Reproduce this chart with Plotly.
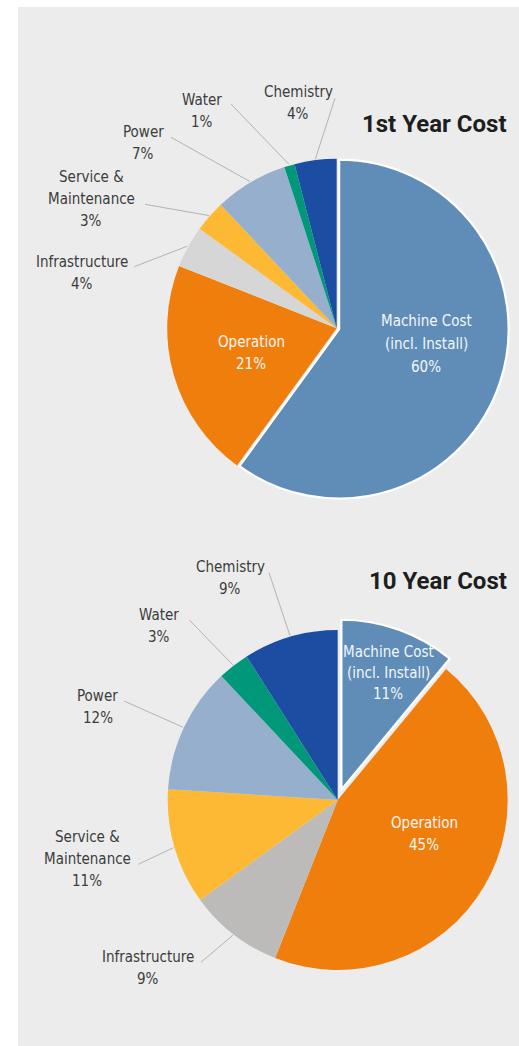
import math
import plotly.graph_objects as go

W, H = 519, 1046

# ---------------- data ----------------
categories = ["Machine Cost<br>(incl. Install)", "Operation", "Infrastructure",
              "Service &<br>Maintenance", "Power", "Water", "Chemistry"]
first_year = [60, 21, 4, 3, 7, 1, 4]
ten_year = [11, 45, 9, 11, 12, 3, 9]
titles = ["1st Year Cost", "10 Year Cost"]

# ---------------- style ----------------
BG = "#ebeceb"
colors1 = ["#5f8db7", "#f07e0d", "#d7d6d6", "#fdb933", "#95afcd", "#009879", "#1b4ea3"]
colors2 = ["#5f8db7", "#f07e0d", "#bcbbb9", "#fdb933", "#95afcd", "#009879", "#1b4ea3"]
FONT = "DejaVu Sans Condensed, sans-serif"
TITLE_FONT = "Roboto, DejaVu Sans Condensed, sans-serif"
LABEL_SIZE = 15
LABEL_COLOR = "#3c3c3c"
LINE_COLOR = "#b3b3b3"

# pie geometry (pixels): centre, radius, pull of the first slice
pies = [
    dict(cx=336.7, cy=328.3, r=169.5, pull=0.015, colors=colors1, values=first_year,
         title_y=123.5, spacing_in=22.5,
         inside={0: (426, 344), 1: (251, 353)},
         outside={2: ((81.7, 272.8), (134.3, 266.7)),
                  3: ((91.3, 199.2), (145, 204.3)),
                  4: ((143.3, 142.5), (171, 137.3)),
                  5: ((202, 111.2), (231, 104)),
                  6: ((298, 102.5), (335, 98.3))}),
    dict(cx=337.7, cy=800, r=170, pull=0.064, colors=colors2, values=ten_year,
         title_y=581, spacing_in=21.3,
         inside={0: (388, 673), 1: (424.3, 834)},
         outside={2: ((148, 968.3), (201, 962.3)),
                  3: ((87, 858.5), (138.3, 864.3)),
                  4: ((97.5, 707), (124, 701)),
                  5: ((159, 625.5), (189.3, 620)),
                  6: ((230, 577.7), (269, 572.7))}),
]


def px(x):
    return min(1.0, max(0.0, x / W))


def py(y):
    return min(1.0, max(0.0, 1 - y / H))


fig = go.Figure()
annotations = []
shapes = [dict(type="rect", xref="paper", yref="paper", x0=px(18), x1=px(W), y0=py(H), y1=py(7),
               fillcolor=BG, line=dict(width=0), layer="below")]


def add_text(text, x, yc, spacing, color):
    lines = text.split("<br>")
    n = len(lines)
    for k, ln in enumerate(lines):
        y = yc + (k - (n - 1) / 2) * spacing
        annotations.append(dict(x=px(x), y=py(y), xref="paper", yref="paper", text=ln,
                                showarrow=False, xanchor="center", yanchor="middle",
                                font=dict(family=FONT, size=LABEL_SIZE, color=color)))


for p, title in zip(pies, titles):
    half = p["r"] * (1 + p["pull"])
    vals = p["values"]
    fig.add_trace(go.Pie(
        labels=[c.replace("<br>", " ") for c in categories],
        values=vals,
        sort=False,
        direction="clockwise",
        rotation=0,
        pull=[p["pull"]] + [0] * (len(vals) - 1),
        marker=dict(colors=p["colors"],
                    line=dict(color="white", width=[2.2] + [0] * (len(vals) - 1))),
        textinfo="none",
        hoverinfo="label+percent",
        showlegend=False,
        domain=dict(x=[px(p["cx"] - half), px(p["cx"] + half)],
                    y=[py(p["cy"] + half), py(p["cy"] - half)]),
    ))
    total = sum(vals)
    cum = 0
    for i, v in enumerate(vals):
        mid = (cum + v / 2) / total * 2 * math.pi
        cum += v
        text = f"{categories[i]}<br>{v}%"
        if i in p["inside"]:
            tx, ty = p["inside"][i]
            add_text(text, tx, ty, p["spacing_in"], "#f4f6f8")
        else:
            (tx, ty), (lx, ly) = p["outside"][i]
            add_text(text, tx, ty, 22, LABEL_COLOR)
            ex = p["cx"] + (p["r"] + 1) * math.sin(mid)
            ey = p["cy"] - (p["r"] + 1) * math.cos(mid)
            shapes.append(dict(type="line", xref="paper", yref="paper",
                               x0=px(lx), y0=py(ly), x1=px(ex), y1=py(ey),
                               line=dict(color=LINE_COLOR, width=1)))
    annotations.append(dict(x=px(508.5), y=py(p["title_y"]), xref="paper", yref="paper",
                            text=f"<b>{title}</b>", showarrow=False, xanchor="right",
                            yanchor="middle", font=dict(family=TITLE_FONT, size=24, color="#1e1e1e")))

fig.update_layout(
    width=W, height=H,
    margin=dict(l=0, r=0, t=0, b=0),
    paper_bgcolor="white",
    plot_bgcolor="rgba(0,0,0,0)",
    shapes=shapes,
    annotations=annotations,
)

fig.write_html("out.html", config=dict(displayModeBar=False),
               post_script="document.body.style.margin='0px';document.body.style.overflow='hidden';")
